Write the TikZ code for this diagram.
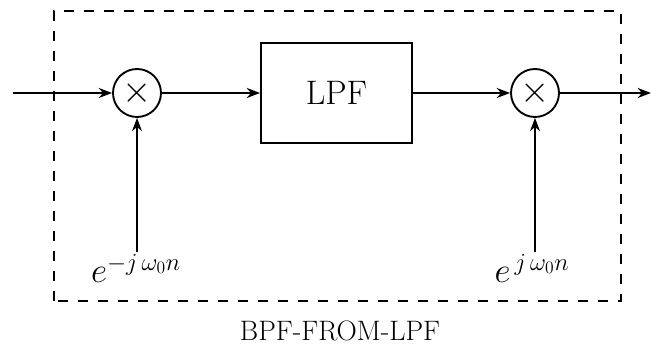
\RequirePackage{fix-cm}
\documentclass[tikz,border=0pt]{standalone}
\usepackage{amsmath,amssymb}
\usepackage{tikz}
\usetikzlibrary{arrows.meta, positioning, calc}

\begin{document}
\begin{tikzpicture}[x=0.03cm,y=0.03cm,
		every node/.style={font=\fontsize{30}{34}\selectfont},
		mult/.style={circle, draw, line width=1.6pt, minimum size=1.44cm, inner sep=0pt, font=\fontsize{32}{36}\selectfont},
		blk/.style={draw, line width=1.6pt, minimum width=4.53cm, minimum height=3cm, font=\fontsize{29}{33}\selectfont},
		sig/.style={line width=2pt, -{Stealth[length=0.4cm, width=0.3cm, inset=0.13cm]}},
		osc/.style={line width=1pt, -{Stealth[length=0.4cm, width=0.3cm, inset=0.13cm]}},
		frame/.style={line width=1.4pt, dash pattern=on 0.3cm off 0.3cm}]
			\useasboundingbox (0,0) rectangle (652,349);
			\draw[frame] (54,48) rectangle (621,338);
			\coordinate (in) at (13,256);
			\coordinate (out) at (651,256);
			\node[mult] (m1) at (137,256) {$\times$};
			\node[blk] (lpf) at (336.5,256) {LPF};
			\node[mult] (m2) at (535,256) {$\times$};
			\node[anchor=base, inner sep=2pt] (lo1) at (136,66) {$e^{-j\,\omega_0 n}$};
			\node[anchor=base, inner sep=2pt] (lo2) at (532,66) {$e^{\,j\,\omega_0 n}$};
			\node[font=\fontsize{24}{28}\selectfont] (title) at (340,18) {BPF-FROM-LPF};
			\draw[sig] (in) -- (m1);
			\draw[sig] (m1) -- (lpf);
			\draw[sig] (lpf) -- (m2);
			\draw[sig] (m2) -- (out);
			\draw[osc] (lo1.north -| m1) -- (m1);
			\draw[osc] (lo2.north -| m2) -- (m2);
		\end{tikzpicture}
\end{document}
